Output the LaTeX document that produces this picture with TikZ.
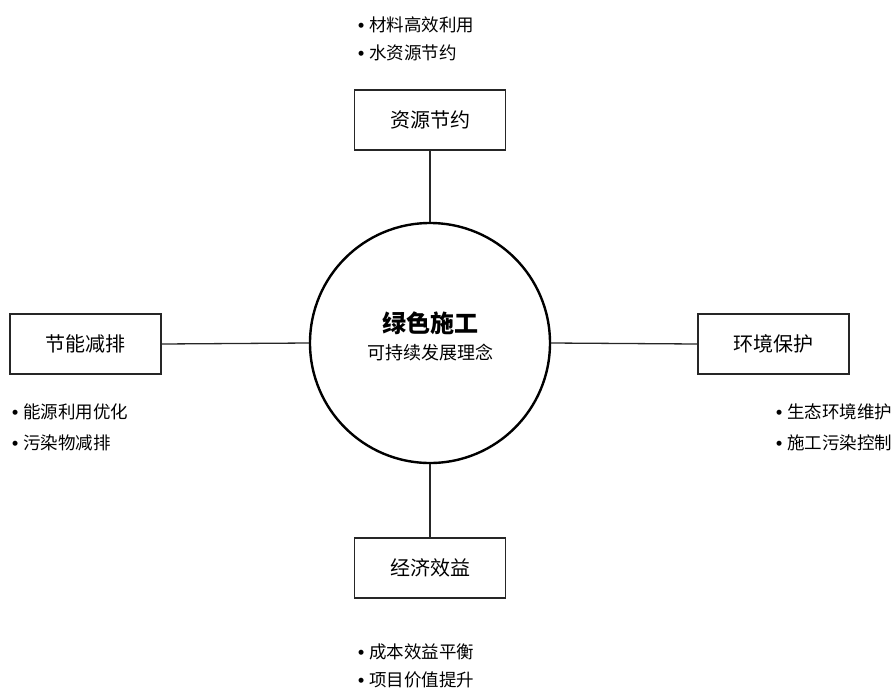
\documentclass[tikz,border=0pt]{standalone}
\usepackage{fontspec}
\setmainfont{Noto Sans CJK SC}
\newfontfamily\bulfont{Liberation Sans}
\newcommand{\bulitem}[1]{{\bulfont\bfseries •}\hspace{5pt}#1}
\begin{document}
\begin{tikzpicture}[x=1pt,y=-1pt,
  hub/.style={circle,draw=black,line width=2.4pt,minimum size=240pt,inner sep=0pt},
  topic/.style={draw=black!85,line width=1.4pt,minimum width=151pt,minimum height=60pt,inner sep=0pt,font=\fontsize{20}{24}\selectfont},
  item/.style={anchor=west,inner sep=0pt,font=\fontsize{17.5}{20}\selectfont},
  link/.style={draw=black!85,line width=1.3pt}]
\useasboundingbox (0,0) rectangle (895,689);
\node[hub] (c) at (430,343) {};
\node[font=\fontsize{24}{28}\selectfont\bfseries] (title) at (430,323) {绿色施工};
\node[font=\fontsize{18}{22}\selectfont] (sub) at (430,353) {可持续发展理念};
\node[topic] (top) at (430,120) {资源节约};
\node[topic] (bot) at (430,568) {经济效益};
\node[topic] (lft) at (85.5,344) {节能减排};
\node[topic] (rgt) at (773.5,344) {环境保护};
\draw[link] (top.south) -- (c.north);
\draw[link] (bot.north) -- (c.south);
\draw[link] (lft.east) -- (c.west);
\draw[link] (rgt.west) -- (c.east);
\node[item] (t1) at (358,25) {\bulitem{材料高效利用}};
\node[item] (t2) at (358,53) {\bulitem{水资源节约}};
\node[item] (l1) at (12,412) {\bulitem{能源利用优化}};
\node[item] (l2) at (12,443) {\bulitem{污染物减排}};
\node[item] (r1) at (776,412) {\bulitem{生态环境维护}};
\node[item] (r2) at (776,443) {\bulitem{施工污染控制}};
\node[item] (b1) at (358,652) {\bulitem{成本效益平衡}};
\node[item] (b2) at (358,680) {\bulitem{项目价值提升}};
\end{tikzpicture}
\end{document}
